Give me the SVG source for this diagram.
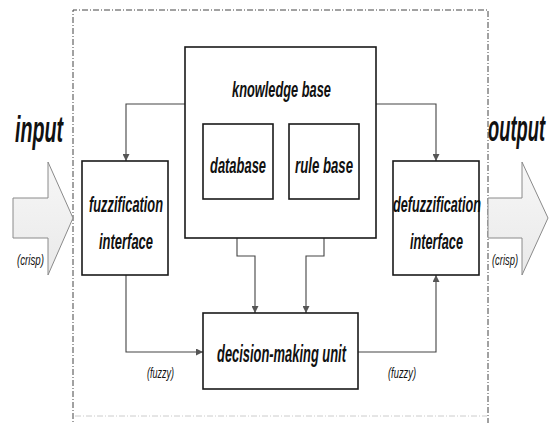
<svg xmlns="http://www.w3.org/2000/svg" width="551" height="423" viewBox="0 0 551 423">
<style>
.box{fill:#fff;stroke:#1a1a1a;stroke-width:1.6}
.con{fill:none;stroke:#444;stroke-width:1.1}
.t{font-family:"Liberation Sans",Arial,sans-serif;font-style:italic;font-weight:bold;fill:#111}
.lbl{font-size:22px}
.small{font-size:15px;font-weight:normal}
.big{font-size:36px}
.fat{fill:url(#g);stroke:#8a8a8a;stroke-width:1}
</style>
<defs>
<linearGradient id="g" x1="0" y1="0" x2="0" y2="1">
<stop offset="0" stop-color="#f7f7f7"/>
<stop offset="1" stop-color="#e9e9e9"/>
</linearGradient>
<marker id="ah" viewBox="0 0 10 10" refX="10" refY="5" markerWidth="7" markerHeight="7" orient="auto-start-reverse" markerUnits="userSpaceOnUse">
<path d="M0,0 L10,5 L0,10 z" fill="#555"/>
</marker>
</defs>
<rect width="551" height="423" fill="#fff"/>

<g id="frame">
<path d="M73,430 V10 H488 V430" fill="none" stroke="#444" stroke-width="1" stroke-dasharray="6,2,1,2"/>
<line x1="75" y1="416" x2="487" y2="416" stroke="#ccc" stroke-width="1" stroke-dasharray="6,2,1,2"/>
</g>

<g id="input-arrow">
<path class="fat" d="M13,198 H48 V162 L73,218 L48,275 V238 H13 Z"/>
<text class="t big" x="15" y="142" textLength="48" lengthAdjust="spacingAndGlyphs">input</text>
<text class="t small" x="17" y="265" textLength="27" lengthAdjust="spacingAndGlyphs">(crisp)</text>
</g>

<g id="output-arrow">
<path class="fat" d="M488,198 H522 V162 L548,218 L522,275 V238 H488 Z"/>
<text class="t big" x="488" y="141" textLength="57" lengthAdjust="spacingAndGlyphs">output</text>
<text class="t small" x="492" y="265" textLength="26" lengthAdjust="spacingAndGlyphs">(crisp)</text>
</g>

<g id="connectors">
<path class="con" d="M185,104 H126 V161" marker-end="url(#ah)"/>
<path class="con" d="M376,104 H436 V161" marker-end="url(#ah)"/>
<path class="con" d="M237,199 V256 H255 V313" marker-end="url(#ah)"/>
<path class="con" d="M324,199 V256 H306 V313" marker-end="url(#ah)"/>
<path class="con" d="M126,275 V352 H203" marker-end="url(#ah)"/>
<path class="con" d="M358,352 H436 V275" marker-end="url(#ah)"/>
<text class="t small" x="147" y="378" textLength="27" lengthAdjust="spacingAndGlyphs">(fuzzy)</text>
<text class="t small" x="388" y="378" textLength="28" lengthAdjust="spacingAndGlyphs">(fuzzy)</text>
</g>

<g id="knowledge-base">
<rect class="box" x="185" y="47" width="191" height="191"/>
<text class="t lbl" x="232" y="97" textLength="99" lengthAdjust="spacingAndGlyphs">knowledge base</text>
</g>

<g id="database">
<rect class="box" x="203" y="124" width="70" height="75"/>
<text class="t lbl" x="210" y="173" textLength="56" lengthAdjust="spacingAndGlyphs">database</text>
</g>

<g id="rule-base">
<rect class="box" x="289" y="124" width="70" height="75"/>
<text class="t lbl" x="295" y="173" textLength="58" lengthAdjust="spacingAndGlyphs">rule base</text>
</g>

<g id="fuzzification">
<rect class="box" x="82" y="161" width="86" height="114"/>
<text class="t lbl" x="89" y="212" textLength="74" lengthAdjust="spacingAndGlyphs">fuzzification</text>
<text class="t lbl" x="99" y="249" textLength="54" lengthAdjust="spacingAndGlyphs">interface</text>
</g>

<g id="defuzzification">
<rect class="box" x="393" y="161" width="86" height="114"/>
<text class="t lbl" x="393" y="212" textLength="88" lengthAdjust="spacingAndGlyphs">defuzzification</text>
<text class="t lbl" x="410" y="249" textLength="53" lengthAdjust="spacingAndGlyphs">interface</text>
</g>

<g id="decision">
<rect class="box" x="203" y="313" width="155" height="76"/>
<text class="t" style="font-size:23px" x="217" y="362" textLength="129" lengthAdjust="spacingAndGlyphs">decision-making unit</text>
</g>
</svg>
